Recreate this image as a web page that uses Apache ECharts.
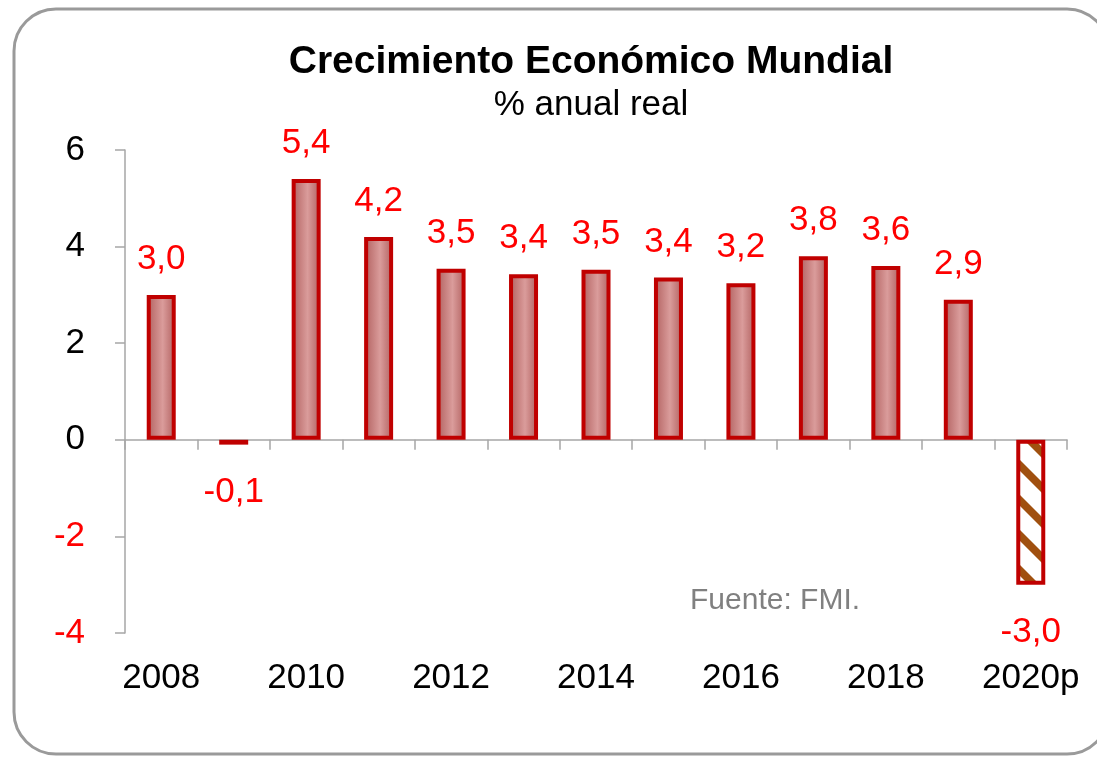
<!DOCTYPE html>
<html>
<head>
<meta charset="utf-8">
<script src="https://cdn.jsdelivr.net/npm/echarts@6/dist/echarts.min.js"></script>
<style>html,body{margin:0;padding:0;background:#fff}#c{width:1097px;height:757px}</style>
</head>
<body>
<div id="c"></div>
<script>
var categories = ['2008','2009','2010','2011','2012','2013','2014','2015','2016','2017','2018','2019','2020p'];
var growth = [3.0, -0.1, 5.4, 4.2, 3.54, 3.43, 3.52, 3.36, 3.24, 3.8, 3.6, 2.9, -3.0];
var projectedIndex = 12;
var yTicks = [-4, -2, 0, 2, 4, 6];

var FONT = 'Liberation Sans, Arial, sans-serif';

// striped pattern for projection bar
var tile = document.createElement('canvas');
tile.width = 35; tile.height = 35;
var tc = tile.getContext('2d');
tc.fillStyle = '#ffffff';
tc.fillRect(0, 0, 35, 35);
tc.fillStyle = '#A0500F';
[-35, 0, 35].forEach(function (k) {
  tc.beginPath();
  tc.moveTo(0, k);
  tc.lineTo(35, k + 35);
  tc.lineTo(35, k + 35 + 11);
  tc.lineTo(0, k + 11);
  tc.closePath();
  tc.fill();
});

var barGrad = new echarts.graphic.LinearGradient(0, 0, 1, 0, [
  {offset: 0, color: '#B05E5D'},
  {offset: 0.55, color: '#DA9C9B'},
  {offset: 1, color: '#B05E5D'}
]);

var seriesData = growth.map(function (v, i) {
  var item = {value: v};
  if (i === projectedIndex) {
    item.itemStyle = {color: {image: tile, repeat: 'repeat'}};
  }
  item.label = {position: v >= 0 ? 'top' : 'bottom', distance: v >= 0 ? 18 : 30};
  return item;
});

var chart = echarts.init(document.getElementById('c'), null, {renderer: 'canvas'});
chart.setOption({
  animation: false,
  backgroundColor: '#ffffff',
  title: [
    {text: 'Crecimiento Económico Mundial', left: 586, textAlign: 'center', top: 38,
     textStyle: {fontFamily: FONT, fontSize: 39, fontWeight: 'bold', color: '#000'}},
    {text: '% anual real', left: 586, textAlign: 'center', top: 83,
     textStyle: {fontFamily: FONT, fontSize: 35, fontWeight: 'normal', color: '#000'}}
  ],
  graphic: [
    {type: 'rect', shape: {x: 14, y: 9, width: 1095, height: 745, r: 42},
     style: {fill: 'none', stroke: '#9A9A9A', lineWidth: 3}, silent: true, z: -1},
    {type: 'text', left: 690, top: 586,
     style: {text: 'Fuente: FMI.', fill: '#808080', font: '30px ' + FONT}}
  ],
  grid: {left: 125, right: 30, top: 150, bottom: 124, containLabel: false},
  xAxis: [
    {type: 'category', data: categories, boundaryGap: true,
     axisLine: {onZero: true, lineStyle: {color: '#A6A6A6', width: 1.5}},
     axisTick: {show: true, length: 10, inside: false, lineStyle: {color: '#A6A6A6', width: 1.5}},
     axisLabel: {show: false}, splitLine: {show: false}},
    {type: 'category', data: categories, position: 'bottom', boundaryGap: true,
     axisLine: {show: false, onZero: false}, axisTick: {show: false},
     axisLabel: {interval: 1, margin: 28, color: '#000', fontFamily: FONT, fontSize: 35},
     splitLine: {show: false}}
  ],
  yAxis: {
    type: 'value', min: -4, max: 6, interval: 2,
    axisLine: {show: true, lineStyle: {color: '#A6A6A6', width: 1.5}},
    axisTick: {show: true, length: 10, lineStyle: {color: '#A6A6A6', width: 1.5}},
    splitLine: {show: false},
    axisLabel: {
      margin: 40, fontFamily: FONT, fontSize: 35,
      formatter: function (v) { return yTicks.indexOf(v) >= 0 ? String(v) : ''; },
      color: function (v) { return Number(v) < 0 ? '#FF0000' : '#000000'; }
    }
  },
  series: [{
    type: 'bar', xAxisIndex: 0, data: seriesData, barWidth: 29,
    itemStyle: {color: barGrad, borderColor: '#C00000', borderWidth: 4},
    label: {show: true, color: '#FF0000', fontFamily: FONT, fontSize: 35,
      formatter: function (p) { return p.value.toFixed(1).replace('.', ','); }}
  }]
});
</script>
</body>
</html>
